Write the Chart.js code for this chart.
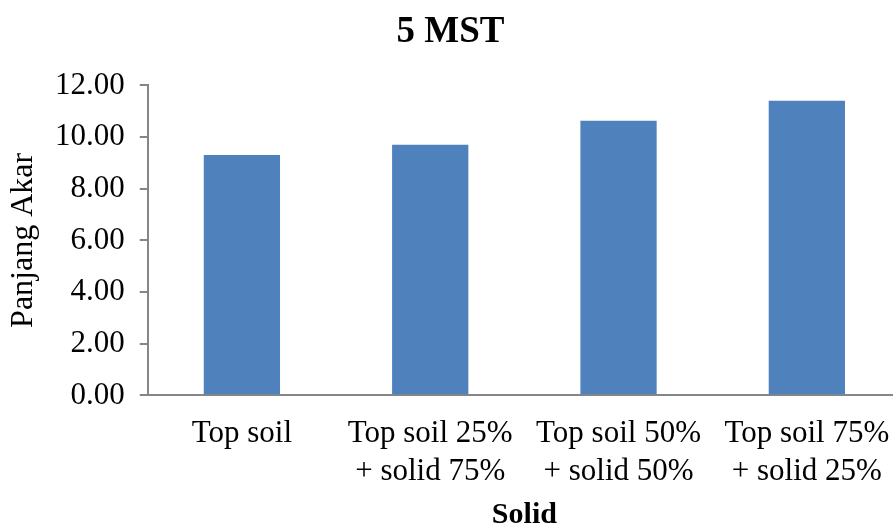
<!DOCTYPE html>
<html>
<head>
<meta charset="utf-8">
<script src="https://cdn.jsdelivr.net/npm/chart.js@4.4.0/dist/chart.umd.min.js"></script>
<style>
    html, body { margin: 0; padding: 0; background: #fff; overflow: hidden; }
    /* el gráfico original está recortado por la derecha */
    #wrap { width: 901px; height: 525px; }
</style>
</head>
<body>
<div id="wrap"><canvas id="akarChart"></canvas></div>
<script>
// Datos del gráfico
const categorias = [
    'Top soil',
    ['Top soil 25%', '+ solid 75%'],
    ['Top soil 50%', '+ solid 50%'],
    ['Top soil 75%', '+ solid 25%']
];
const panjangAkar = [9.31, 9.70, 10.63, 11.41];
const yTicks = [0, 2, 4, 6, 8, 10, 12];

const serif = "'Liberation Serif', 'Times New Roman', serif";
const axisGray = '#868686';

document.addEventListener('DOMContentLoaded', function() {
    initializeAkarChart();
});

function initializeAkarChart() {
    const ctx = document.getElementById('akarChart').getContext('2d');
    new Chart(ctx, {
        type: 'bar',
        data: {
            labels: categorias,
            datasets: [{
                data: panjangAkar,
                backgroundColor: '#4F81BD',
                borderWidth: 0,
                barPercentage: 0.405,
                categoryPercentage: 1.0
            }]
        },
        options: {
            responsive: true,
            maintainAspectRatio: false,
            animation: false,
            layout: { padding: 0 },
            plugins: {
                legend: { display: false },
                tooltip: { enabled: false },
                title: {
                    display: true,
                    text: '5 MST',
                    color: '#000',
                    font: { family: serif, size: 37, weight: 'bold', lineHeight: 1.2 },
                    padding: { top: 10, bottom: 31 }
                }
            },
            scales: {
                x: {
                    // ticks invisibles: sólo dan el espacio bajo el eje
                    grid: {
                        display: true,
                        drawOnChartArea: false,
                        drawTicks: true,
                        tickLength: 20,
                        color: 'transparent',
                        tickColor: 'transparent'
                    },
                    border: { display: true, color: axisGray, width: 2 },
                    ticks: {
                        color: '#000',
                        font: { family: serif, size: 31, lineHeight: 1.22 },
                        padding: 0,
                        maxRotation: 0,
                        autoSkip: false
                    },
                    title: {
                        display: true,
                        text: 'Solid',
                        color: '#000',
                        font: { family: serif, size: 30, weight: 'bold', lineHeight: 0.8 },
                        padding: { top: 12, bottom: -2 }
                    }
                },
                y: {
                    min: 0,
                    max: 12,
                    afterBuildTicks: function(axis) {
                        axis.ticks = yTicks.map(v => ({ value: v }));
                    },
                    grid: {
                        drawOnChartArea: false,
                        drawTicks: true,
                        tickLength: 8,
                        color: axisGray,
                        lineWidth: 2
                    },
                    border: { display: true, color: axisGray, width: 2 },
                    ticks: {
                        color: '#000',
                        font: { family: serif, size: 31 },
                        padding: 15,
                        callback: function(value) { return Number(value).toFixed(2); }
                    },
                    title: {
                        display: true,
                        text: 'Panjang Akar',
                        color: '#000',
                        font: { family: serif, size: 32, lineHeight: 1.0 },
                        padding: { top: 8, bottom: 0 }
                    }
                }
            }
        }
    });
}
</script>
</body>
</html>
